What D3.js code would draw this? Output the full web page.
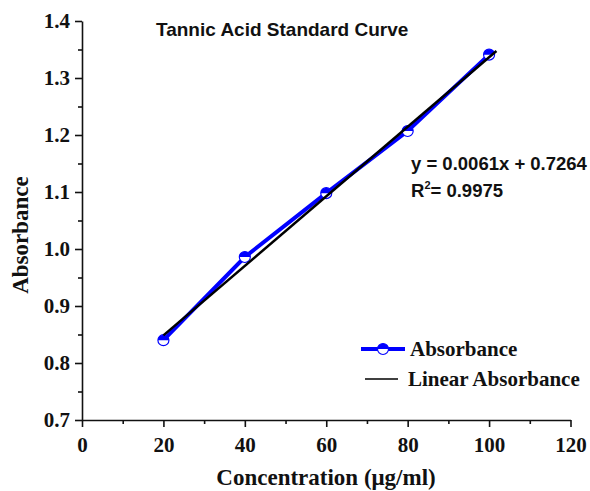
<!DOCTYPE html>
<html><head><meta charset="utf-8">
<script src="https://cdn.jsdelivr.net/npm/d3@7"></script>
<style>
body{margin:0;background:#fff;}
svg{display:block;}
.serif{font-family:"Liberation Serif","Times New Roman",serif;font-weight:bold;}
.sans{font-family:"Liberation Sans",Arial,sans-serif;font-weight:bold;}
</style></head>
<body><svg id="c" width="590" height="491"></svg>
<script>
const concentration = [20, 40, 60, 80, 100];
const absorbance = [0.840, 0.986, 1.098, 1.207, 1.341];
const fitSlope = 0.0061;
const fitIntercept = 0.7264;
const fitRange = [20, 101.8];
const xTicks = [0, 20, 40, 60, 80, 100, 120];
const xMinorTicks = [10, 30, 50, 70, 90, 110];
const yTicks = [0.7, 0.8, 0.9, 1.0, 1.1, 1.2, 1.3, 1.4];
const yMinorTicks = [0.75, 0.85, 0.95, 1.05, 1.15, 1.25, 1.35];
const titleText = "Tannic Acid Standard Curve";
const xTitle = "Concentration (\u03bcg/ml)";
const yTitle = "Absorbance";
const legendLabels = ["Absorbance", "Linear Absorbance"];

const svg = d3.select("#c");
const x = d3.scaleLinear().domain([0, 120]).range([82, 570.5]);
const y = d3.scaleLinear().domain([0.7, 1.4]).range([420, 21]);
const blue = "#0000ff";

// minor ticks
const gx = svg.append("g").attr("transform", "translate(0,420)");
gx.call(d3.axisBottom(x).tickValues(xMinorTicks).tickSize(4).tickFormat(""));
gx.call(g => g.select(".domain").remove());
svg.append("g").attr("transform", "translate(0,420)")
  .call(d3.axisBottom(x).tickValues(xTicks).tickSize(7).tickSizeOuter(0).tickPadding(10).tickFormat(d3.format("d")));
const gy = svg.append("g").attr("transform", "translate(82,0)");
gy.call(d3.axisLeft(y).tickValues(yMinorTicks).tickSize(4).tickFormat(""));
gy.call(g => g.select(".domain").remove());
svg.append("g").attr("transform", "translate(82,0)")
  .call(d3.axisLeft(y).tickValues(yTicks).tickSize(7).tickSizeOuter(0).tickPadding(5).tickFormat(d3.format(".1f")));

svg.selectAll(".domain, .tick line").attr("stroke", "#111").attr("stroke-width", 1.6);
svg.selectAll(".tick text").attr("class", "serif").attr("font-size", 21).attr("fill", "#111");

// data line
svg.append("path")
  .datum(concentration.map((c, i) => [c, absorbance[i]]))
  .attr("fill", "none").attr("stroke", blue).attr("stroke-width", 4)
  .attr("d", d3.line().x(d => x(d[0])).y(d => y(d[1])));

function halfMarker(g, cx, cy, r) {
  g.append("circle").attr("cx", cx).attr("cy", cy).attr("r", r)
    .attr("fill", "#fff").attr("stroke", blue).attr("stroke-width", 1.2);
  const arc = d3.arc().innerRadius(0).outerRadius(r).startAngle(-Math.PI / 2).endAngle(Math.PI / 2);
  g.append("path").attr("d", arc()).attr("transform", `translate(${cx},${cy})`).attr("fill", blue);
}
const mk = svg.append("g");
concentration.forEach((c, i) => halfMarker(mk, x(c), y(absorbance[i]), 5.5));

// fit line
svg.append("path")
  .datum(fitRange.map(c => [c, fitSlope * c + fitIntercept]))
  .attr("fill", "none").attr("stroke", "#000").attr("stroke-width", 2.5)
  .attr("d", d3.line().x(d => x(d[0])).y(d => y(d[1])));

// title
svg.append("text").attr("class", "sans").attr("x", 156).attr("y", 36)
  .attr("font-size", 19).attr("fill", "#111").text(titleText);

// equation
svg.append("text").attr("class", "sans").attr("x", 411).attr("y", 170)
  .attr("font-size", 18.5).attr("fill", "#111").text(`y = ${fitSlope}x + ${fitIntercept}`);
const r2 = svg.append("text").attr("class", "sans").attr("x", 411).attr("y", 197)
  .attr("font-size", 18.5).attr("fill", "#111");
r2.append("tspan").text("R");
r2.append("tspan").attr("font-size", 11).attr("dy", -8).text("2");
r2.append("tspan").attr("dy", 8).text("= 0.9975");

// axis titles
svg.append("text").attr("class", "serif").attr("font-size", 23).attr("fill", "#111")
  .attr("text-anchor", "middle").attr("x", 326).attr("y", 485).text(xTitle);
svg.append("text").attr("class", "serif").attr("font-size", 23).attr("fill", "#111")
  .attr("text-anchor", "middle").attr("transform", "translate(28,235) rotate(-90)").text(yTitle);

// legend
const lg = svg.append("g");
lg.append("line").attr("x1", 361).attr("x2", 405).attr("y1", 349).attr("y2", 349)
  .attr("stroke", blue).attr("stroke-width", 4);
halfMarker(lg, 383, 349, 5.5);
lg.append("text").attr("class", "serif").attr("font-size", 21).attr("fill", "#111")
  .attr("x", 410).attr("y", 356).text(legendLabels[0]);
lg.append("line").attr("x1", 365).attr("x2", 398).attr("y1", 379).attr("y2", 379)
  .attr("stroke", "#000").attr("stroke-width", 1.5);
lg.append("text").attr("class", "serif").attr("font-size", 21).attr("fill", "#111")
  .attr("x", 408).attr("y", 386).text(legendLabels[1]);
</script></body></html>
